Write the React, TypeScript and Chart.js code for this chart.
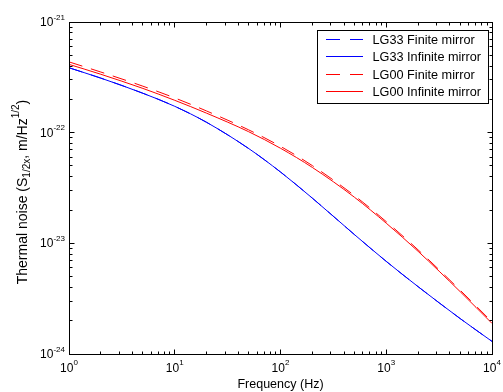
import React, { useEffect, useRef } from "react";
import { Chart, registerables } from "chart.js";

Chart.register(...registerables);

const freqs = [1, 2, 5, 10, 20, 50, 100, 200, 500, 1000, 2000, 5000, 10000];
const lg33Finite = [3.86e-22, 3.11e-22, 2.27e-22, 1.73e-22, 1.24e-22, 7.19e-23, 4.41e-23, 2.56e-23, 1.2e-23, 6.87e-24, 4.06e-24, 2.09e-24, 1.3e-24];
const lg33Infinite = [3.86e-22, 3.11e-22, 2.27e-22, 1.73e-22, 1.24e-22, 7.19e-23, 4.41e-23, 2.56e-23, 1.2e-23, 6.87e-24, 4.06e-24, 2.09e-24, 1.3e-24];
const lg00Finite = [4.36e-22, 3.53e-22, 2.63e-22, 2.06e-22, 1.57e-22, 1.06e-22, 7.52e-23, 5.04e-23, 2.7e-23, 1.57e-23, 8.73e-24, 3.77e-24, 1.95e-24];
const lg00Infinite = [4.14e-22, 3.37e-22, 2.51e-22, 1.96e-22, 1.5e-22, 1.02e-22, 7.23e-23, 4.85e-23, 2.61e-23, 1.52e-23, 8.47e-24, 3.66e-24, 1.89e-24];

const seriesNames = ["LG33 Finite mirror", "LG33 Infinite mirror", "LG00 Finite mirror", "LG00 Infinite mirror"];
const seriesColors = ["#0000ff", "#0000ff", "#ff0000", "#ff0000"];
const seriesDashed = [true, false, true, false];
const seriesValues = [lg33Finite, lg33Infinite, lg00Finite, lg00Infinite];

const xMajorExps = [0, 1, 2, 3, 4];
const yMajorExps = [-24, -23, -22, -21];
const xTitle = "Frequency (Hz)";

const FONT = '"Liberation Sans", Arial, Helvetica, sans-serif';
const DASH = [14, 9];

type Part = { t: string; size: number; dy: number };

function partsWidth(ctx: CanvasRenderingContext2D, parts: Part[]) {
  let w = 0;
  for (const p of parts) {
    ctx.font = `${p.size}px ${FONT}`;
    w += ctx.measureText(p.t).width;
  }
  return w;
}

function drawParts(ctx: CanvasRenderingContext2D, parts: Part[], x: number, y: number) {
  let cx = x;
  for (const p of parts) {
    ctx.font = `${p.size}px ${FONT}`;
    ctx.fillText(p.t, cx, y + p.dy);
    cx += ctx.measureText(p.t).width;
  }
}

const decorPlugin = {
  id: "decor",
  afterDraw(chart: any) {
    const ctx: CanvasRenderingContext2D = chart.ctx;
    const { left, right, top, bottom } = chart.chartArea;
    const xs = chart.scales.x;
    const ys = chart.scales.y;
    ctx.save();
    ctx.globalAlpha = 1;
    ctx.strokeStyle = "#000000";
    ctx.fillStyle = "#000000";
    ctx.lineWidth = 1;
    ctx.setLineDash([]);
    const L = Math.floor(left) + 0.5;
    const R = Math.floor(right) + 0.5;
    const T = Math.floor(top) + 0.5;
    const B = Math.floor(bottom) + 0.5;
    ctx.strokeRect(L, T, R - L, B - T);

    // x ticks
    ctx.beginPath();
    for (let e = 0; e < 4; e++) {
      for (let k = 1; k <= 9; k++) {
        if (k === 1 && e === 0) continue;
        const v = k * Math.pow(10, e);
        const px = Math.floor(xs.getPixelForValue(v)) + 0.5;
        const len = k === 1 ? 5 : 3;
        ctx.moveTo(px, B);
        ctx.lineTo(px, B - len);
        ctx.moveTo(px, T);
        ctx.lineTo(px, T + len);
      }
    }
    // y ticks
    for (let e = -24; e < -21; e++) {
      for (let k = 1; k <= 9; k++) {
        if (k === 1 && e === -24) continue;
        const v = k * Math.pow(10, e);
        const py = Math.floor(ys.getPixelForValue(v)) + 0.5;
        const len = k === 1 ? 5 : 3;
        ctx.moveTo(L, py);
        ctx.lineTo(L + len, py);
        ctx.moveTo(R, py);
        ctx.lineTo(R - len, py);
      }
    }
    ctx.stroke();

    // tick labels
    ctx.textBaseline = "alphabetic";
    ctx.textAlign = "left";
    for (const e of xMajorExps) {
      const px = xs.getPixelForValue(Math.pow(10, e));
      const parts: Part[] = [
        { t: "10", size: 12, dy: 0 },
        { t: String(e), size: 8, dy: -6.5 },
      ];
      const w = partsWidth(ctx, parts);
      drawParts(ctx, parts, px - w / 2, bottom + 17.5);
    }
    for (const e of yMajorExps) {
      const py = ys.getPixelForValue(Math.pow(10, e));
      const parts: Part[] = [
        { t: "10", size: 12, dy: 0 },
        { t: String(e), size: 8, dy: -6.5 },
      ];
      const w = partsWidth(ctx, parts);
      drawParts(ctx, parts, left - 4 - w, py + 4);
    }

    // x title
    ctx.font = `12.5px ${FONT}`;
    const tw = ctx.measureText(xTitle).width;
    ctx.fillText(xTitle, (left + right) / 2 - tw / 2, 388);

    // y title
    const yParts: Part[] = [
      { t: "Thermal noise (S", size: 14, dy: 0 },
      { t: "1/2x", size: 10, dy: 3 },
      { t: ", m/Hz", size: 14, dy: 0 },
      { t: "1/2", size: 10, dy: -8 },
      { t: ")", size: 14, dy: 0 },
    ];
    const yw = partsWidth(ctx, yParts);
    ctx.save();
    ctx.translate(27, (top + bottom) / 2 + 4);
    ctx.rotate(-Math.PI / 2);
    drawParts(ctx, yParts, -yw / 2, 0);
    ctx.restore();

    // legend
    const bx = 317.5, by = 30.5, bw = 171, bh = 73;
    ctx.fillStyle = "#ffffff";
    ctx.fillRect(bx, by, bw, bh);
    ctx.strokeStyle = "#000000";
    ctx.strokeRect(bx, by, bw, bh);
    for (let i = 0; i < seriesNames.length; i++) {
      const ry = 39 + i * 17.6;
      const ly = Math.floor(ry);
      ctx.fillStyle = seriesColors[i];
      if (seriesDashed[i]) {
        ctx.fillRect(326, ly, 14, 1);
        ctx.fillRect(350, ly, 13, 1);
      } else {
        ctx.fillRect(326, ly, 37, 1);
      }
      ctx.fillStyle = "#000000";
      ctx.font = `12.7px ${FONT}`;
      ctx.fillText(seriesNames[i], 372.5, ry + 4.5);
    }
    ctx.restore();
  },
};

export default function App() {
  const ref = useRef<HTMLCanvasElement | null>(null);
  useEffect(() => {
    if (!ref.current) return;
    const datasets = seriesValues.map((vals, i) => ({
      label: seriesNames[i],
      data: freqs.map((f, j) => ({ x: f, y: vals[j] })),
      borderColor: seriesColors[i],
      backgroundColor: seriesColors[i],
      borderWidth: 1,
      borderDash: seriesDashed[i] ? DASH : [],
      pointRadius: 0,
      cubicInterpolationMode: "monotone" as const,
      fill: false,
    }));
    const chart = new Chart(ref.current, {
      type: "line",
      data: { datasets },
      options: {
        animation: false,
        responsive: false,
        devicePixelRatio: 1,
        layout: { padding: { top: 22, right: 11, left: 0, bottom: 0 } },
        plugins: { legend: { display: false }, tooltip: { enabled: false } },
        scales: {
          x: {
            type: "logarithmic",
            min: 1,
            max: 10000,
            grid: { display: false },
            border: { display: false },
            ticks: { display: false },
            afterFit: (s: any) => {
              s.height = 38;
            },
          },
          y: {
            type: "logarithmic",
            min: 1e-24,
            max: 1e-21,
            grid: { display: false },
            border: { display: false },
            ticks: { display: false },
            afterFit: (s: any) => {
              s.width = 69;
            },
          },
        },
      },
      plugins: [decorPlugin],
    });
    return () => chart.destroy();
  }, []);
  return (
    <div style={{ position: "fixed", left: 0, top: 0, width: 503, height: 392, background: "#fff" }}>
      <canvas ref={ref} width={503} height={392} />
    </div>
  );
}
